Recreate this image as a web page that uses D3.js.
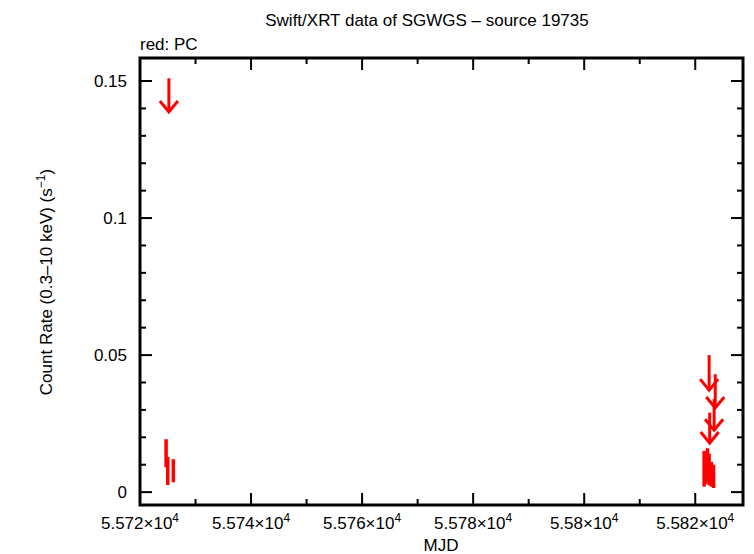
<!DOCTYPE html>
<html>
<head>
<script src="https://d3js.org/d3.v7.min.js"></script>
<style>
body { margin: 0; background: white; }
text { font-family: "Liberation Sans", Arial, sans-serif; }
</style>
</head>
<body>
<svg id="chart" width="754" height="554"></svg>
<script>
// detections: MJD, rate, low, high
const detMjd  = [55724.7, 55725.0, 55726.0, 55821.6, 55821.9, 55822.2, 55822.5, 55822.9, 55823.3];
const detRate = [0.0142, 0.0077, 0.0078, 0.0090, 0.0075, 0.0100, 0.0080, 0.0065, 0.0055];
const detLo   = [0.0091, 0.0026, 0.0036, 0.0020, 0.0030, 0.0040, 0.0025, 0.0020, 0.0015];
const detHi   = [0.0193, 0.0128, 0.0120, 0.0150, 0.0130, 0.0160, 0.0140, 0.0110, 0.0100];
// upper limits: MJD, arrow top, arrow tip
const ulMjd = [55725.2, 55822.5, 55823.6, 55823.4, 55822.6];
const ulTop = [0.151, 0.050, 0.043, 0.034, 0.029];
const ulTip = [0.1387, 0.0372, 0.0307, 0.0226, 0.0179];
const xTicks = [55720, 55740, 55760, 55780, 55800, 55820];
const yTicks = [0, 0.05, 0.1, 0.15];

const svg = d3.select('#chart');
const x = d3.scaleLinear().domain([55720, 55828.6]).range([140, 743]);
const y = d3.scaleLinear().domain([-0.0047, 0.1584]).range([505, 58]);

const fmtX = d => +(d / 1e4).toFixed(4);

// ticks
const g = svg.append('g');
xTicks.forEach(t => {
    g.append('line').attr('x1', x(t)).attr('x2', x(t)).attr('y1', 505).attr('y2', 493).attr('stroke', 'black').attr('stroke-width', 2);
    g.append('line').attr('x1', x(t)).attr('x2', x(t)).attr('y1', 58).attr('y2', 70).attr('stroke', 'black').attr('stroke-width', 2);
    const tx = g.append('text').attr('x', x(t)).attr('y', 529).attr('text-anchor', 'middle').attr('font-size', 17);
    tx.append('tspan').text(fmtX(t) + '×10');
    tx.append('tspan').attr('font-size', 12).attr('dy', -7).text('4');
});
d3.range(55730, 55828, 20).forEach(t => {
    g.append('line').attr('x1', x(t)).attr('x2', x(t)).attr('y1', 505).attr('y2', 499).attr('stroke', 'black').attr('stroke-width', 2);
    g.append('line').attr('x1', x(t)).attr('x2', x(t)).attr('y1', 58).attr('y2', 64).attr('stroke', 'black').attr('stroke-width', 2);
});
yTicks.forEach(t => {
    g.append('line').attr('x1', 140).attr('x2', 152).attr('y1', y(t)).attr('y2', y(t)).attr('stroke', 'black').attr('stroke-width', 2);
    g.append('line').attr('x1', 743).attr('x2', 731).attr('y1', y(t)).attr('y2', y(t)).attr('stroke', 'black').attr('stroke-width', 2);
    g.append('text').attr('x', 127).attr('y', y(t) + 6).attr('text-anchor', 'end').attr('font-size', 17).text(t);
});
d3.range(0.01, 0.158, 0.01).filter(t => Math.abs(t * 20 - Math.round(t * 20)) > 1e-6).forEach(t => {
    g.append('line').attr('x1', 140).attr('x2', 146).attr('y1', y(t)).attr('y2', y(t)).attr('stroke', 'black').attr('stroke-width', 2);
    g.append('line').attr('x1', 743).attr('x2', 737).attr('y1', y(t)).attr('y2', y(t)).attr('stroke', 'black').attr('stroke-width', 2);
});
svg.append('rect').attr('x', 140).attr('y', 58).attr('width', 603).attr('height', 447)
    .attr('fill', 'none').attr('stroke', 'black').attr('stroke-width', 3);

// data
const red = 'rgb(255,0,0)';
detMjd.forEach((m, i) => {
    svg.append('line').attr('x1', x(m)).attr('x2', x(m)).attr('y1', y(detLo[i])).attr('y2', y(detHi[i]))
        .attr('stroke', red).attr('stroke-width', 3.5);
});
ulMjd.forEach((m, i) => {
    const xp = x(m), tp = y(ulTip[i]);
    svg.append('line').attr('x1', xp).attr('x2', xp).attr('y1', y(ulTop[i])).attr('y2', tp).attr('stroke', red).attr('stroke-width', 3);
    svg.append('path').attr('d', `M${xp - 9},${tp - 11}L${xp},${tp}L${xp + 9},${tp - 11}`)
        .attr('fill', 'none').attr('stroke', red).attr('stroke-width', 3);
});

// labels
svg.append('text').attr('x', 427).attr('y', 26).attr('text-anchor', 'middle').attr('font-size', 17).text('Swift/XRT data of SGWGS – source 19735');
svg.append('text').attr('x', 140).attr('y', 50).attr('font-size', 17).text('red: PC');
svg.append('text').attr('x', 441).attr('y', 551).attr('text-anchor', 'middle').attr('font-size', 17).text('MJD');
const yl = svg.append('text').attr('transform', 'translate(52,282) rotate(-90)').attr('text-anchor', 'middle').attr('font-size', 17);
yl.append('tspan').text('Count Rate (0.3–10 keV) (s');
yl.append('tspan').attr('font-size', 12).attr('dy', -7).text('−1');
yl.append('tspan').attr('dy', 7).text(')');
</script>
</body>
</html>
